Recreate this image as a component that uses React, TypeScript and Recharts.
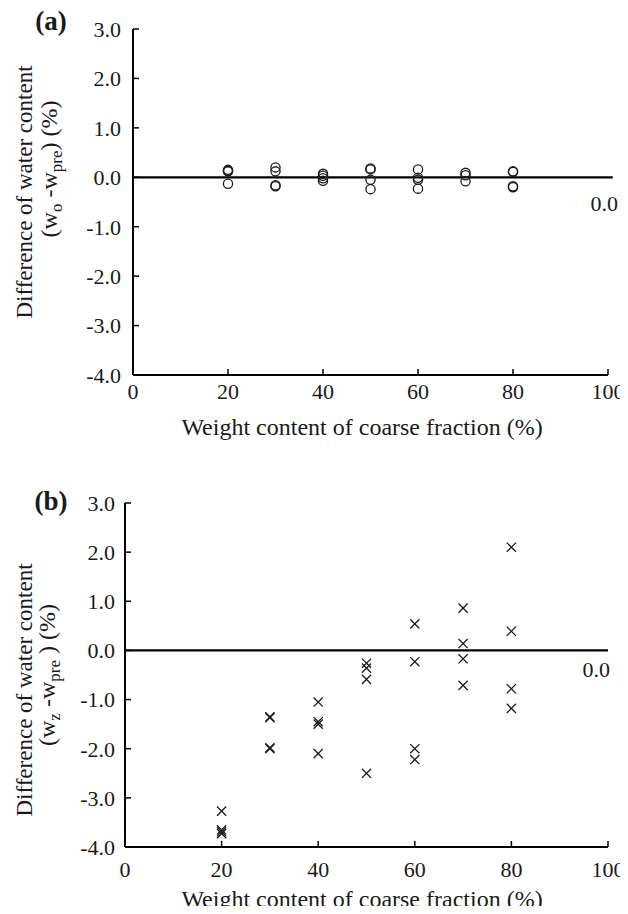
import { ReferenceLine, Scatter, ScatterChart, XAxis, YAxis } from 'recharts';

const coarseFraction = [20, 30, 40, 50, 60, 70, 80];

// (a) w_o - w_pre, several specimens per coarse fraction
const diffWo = [
  [0.15, 0.13, 0.12, -0.13],
  [0.2, 0.12, -0.16, -0.18],
  [0.07, 0.03, -0.02, -0.07],
  [0.18, 0.16, -0.05, -0.24],
  [0.16, -0.01, -0.05, -0.23],
  [0.09, 0.04, -0.08],
  [0.12, 0.11, -0.18, -0.2],
];

// (b) w_z - w_pre
const diffWz = [
  [-3.27, -3.65, -3.69, -3.73],
  [-1.35, -1.37, -1.98, -2.0],
  [-1.05, -1.45, -1.5, -2.1],
  [-0.26, -0.36, -0.59, -2.5],
  [0.54, -0.23, -2.0, -2.22],
  [0.86, 0.14, -0.17, -0.71],
  [2.1, 0.39, -0.78, -1.18],
];

const xTicks = [0, 20, 40, 60, 80, 100];
const yTicks = [-4, -3, -2, -1, 0, 1, 2, 3];

const FONT = '"Liberation Serif", "Times New Roman", serif';
const INK = '#1a1a1a';

const toPoints = (groups: number[][]) =>
  groups.flatMap((vals, i) => vals.map((v) => ({ x: coarseFraction[i], y: v })));

const OpenCircle = (props: any) => (
  <circle cx={props.cx} cy={props.cy} r={4.6} fill="none" stroke={INK} strokeWidth={1.3} />
);

const Cross = (props: any) => {
  const { cx, cy } = props;
  const s = 4.6;
  return (
    <path
      d={`M${cx - s},${cy - s}L${cx + s},${cy + s}M${cx + s},${cy - s}L${cx - s},${cy + s}`}
      stroke={INK}
      strokeWidth={1.3}
      fill="none"
    />
  );
};

interface PanelProps {
  top: number;
  height: number;
  plotTop: number;
  axisW: number;
  axisH: number;
  xTickMargin: number;
  yTickMargin: number;
  letter: string;
  letterY: number;
  sub: string;
  closeParen: string;
  label1Y: number;
  label2X: number;
  label2Y: number;
  xLabelY: number;
  zeroEnd: number;
  zeroRight: number;
  zeroDy: number;
  data: { x: number; y: number }[];
  shape: any;
}

function Panel(p: PanelProps) {
  const tickStyle = { fontFamily: FONT, fontSize: 22, fill: INK };
  return (
    <ScatterChart
      width={628}
      height={p.height}
      margin={{ top: p.plotTop, right: 20, bottom: 0, left: 0 }}
      style={{ position: 'absolute', left: 0, top: p.top }}
    >
      <XAxis
        type="number"
        dataKey="x"
        domain={[0, 100]}
        ticks={xTicks}
        height={p.axisH}
        axisLine={{ stroke: '#000', strokeWidth: 2 }}
        tickLine={{ stroke: '#000', strokeWidth: 1.5 }}
        tickSize={-6}
        tickMargin={p.xTickMargin}
        tick={tickStyle}
        label={{
          content: () => (
            <text x={362} y={p.xLabelY} textAnchor="middle" style={{ fontFamily: FONT, fontSize: 24, fill: INK }}>
              Weight content of coarse fraction (%)
            </text>
          ),
        }}
      />
      <YAxis
        type="number"
        dataKey="y"
        domain={[-4, 3]}
        ticks={yTicks}
        width={p.axisW}
        axisLine={{ stroke: '#000', strokeWidth: 2 }}
        tickLine={{ stroke: '#000', strokeWidth: 1.5 }}
        tickSize={-6}
        tickMargin={p.yTickMargin}
        tick={tickStyle}
        tickFormatter={(v: number) => v.toFixed(1)}
        label={{
          content: () => (
            <g style={{ fontFamily: FONT, fill: INK }}>
              <text x={51} y={p.letterY} textAnchor="middle" style={{ fontSize: 27, fontWeight: 700 }}>
                {p.letter}
              </text>
              <text
                x={32}
                y={p.label1Y}
                textAnchor="middle"
                transform={`rotate(-90, 32, ${p.label1Y})`}
                style={{ fontSize: 23 }}
              >
                Difference of water content
              </text>
              <text
                x={p.label2X}
                y={p.label2Y}
                textAnchor="middle"
                transform={`rotate(-90, ${p.label2X}, ${p.label2Y})`}
                style={{ fontSize: 24 }}
              >
                (w
                <tspan dy={5} style={{ fontSize: 17 }}>
                  {p.sub}
                </tspan>
                <tspan dy={-5}> -w</tspan>
                <tspan dy={5} style={{ fontSize: 17 }}>
                  pre
                </tspan>
                <tspan dy={-5}>{p.closeParen} (%)</tspan>
              </text>
            </g>
          ),
        }}
      />
      <ReferenceLine
        segment={[
          { x: 0, y: 0 },
          { x: p.zeroEnd, y: 0 },
        ]}
        ifOverflow="visible"
        stroke="#000"
        strokeWidth={2.2}
        label={{
          content: (lp: any) => {
            const vb = lp.viewBox || {};
            return (
              <text
                x={p.zeroRight}
                y={(vb.y ?? 0) + p.zeroDy}
                textAnchor="end"
                style={{ fontFamily: FONT, fontSize: 22, fill: INK }}
              >
                0.0
              </text>
            );
          },
        }}
      />
      <Scatter data={p.data} shape={p.shape} isAnimationActive={false} />
    </ScatterChart>
  );
}

export default function App() {
  return (
    <div style={{ position: 'relative', width: 628, height: 914, margin: -8, background: '#fff' }}>
      <Panel
        top={0}
        height={450}
        plotTop={29}
        axisW={133}
        axisH={75}
        xTickMargin={14}
        yTickMargin={18}
        letter="(a)"
        letterY={30}
        sub="o"
        closeParen=")"
        label1Y={192}
        label2X={57}
        label2Y={169}
        xLabelY={435}
        zeroEnd={101}
        zeroRight={618}
        zeroDy={34}
        data={toPoints(diffWo)}
        shape={OpenCircle}
      />
      <Panel
        top={450}
        height={464}
        plotTop={53}
        axisW={125}
        axisH={67}
        xTickMargin={20}
        yTickMargin={16}
        letter="(b)"
        letterY={60}
        sub="z"
        closeParen=" )"
        label1Y={240}
        label2X={55}
        label2Y={225}
        xLabelY={457}
        zeroEnd={100}
        zeroRight={610}
        zeroDy={27}
        data={toPoints(diffWz)}
        shape={Cross}
      />
    </div>
  );
}
